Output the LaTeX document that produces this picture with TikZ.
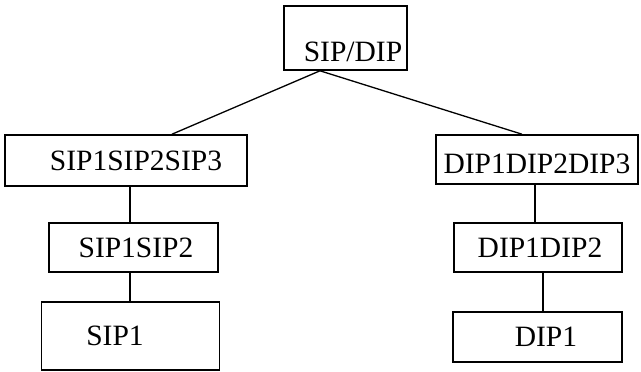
\documentclass[tikz,border=0pt]{standalone}
\usepackage{fontspec}
\setmainfont{Liberation Serif}

\begin{document}
\begin{tikzpicture}[
  x=1pt, y=-1pt,
  box/.style={draw, line width=1.6pt, inner sep=0pt,
    font=\fontsize{29.5}{31}\selectfont, text height=19pt, text depth=0pt},
  link/.style={line width=1.3pt}
]
\useasboundingbox (0,0) rectangle (641,372);

% root and the two branches
\node[box, minimum width=123pt, minimum height=64pt, text height=47pt] (root) at (345.5,38) {\hspace*{15pt}SIP/DIP};
\node[box, minimum width=242pt, minimum height=51pt] (sip3) at (126,160.5) {\hspace*{20pt}SIP1SIP2SIP3};
\node[box, minimum width=202pt, minimum height=49pt, text height=27pt] (dip3) at (537,159.5) {DIP1DIP2DIP3};
\node[box, minimum width=169pt, minimum height=49pt] (sip2) at (133.5,247.5) {\hspace*{5pt}SIP1SIP2};
\node[box, minimum width=168pt, minimum height=49pt] (dip2) at (538,247.5) {\hspace*{4pt}DIP1DIP2};
\node[box, minimum width=178pt, minimum height=68pt] (sip1) at (130.5,336) {SIP1\hspace*{31pt}};
\node[box, minimum width=169pt, minimum height=50pt] (dip1) at (537.5,337) {\hspace*{17pt}DIP1};

\draw[link] ([xshift=-25.5pt]root.south) -- ([xshift=46pt]sip3.north);
\draw[link] ([xshift=-25.5pt]root.south) -- ([xshift=-15pt]dip3.north);
\draw[link] ([xshift=4pt]sip3.south) -- ([xshift=-3.5pt]sip2.north);
\draw[link] ([xshift=-3.5pt]sip2.south) -- ([xshift=-0.5pt]sip1.north);
\draw[link] ([xshift=-2pt]dip3.south) -- ([xshift=-3pt]dip2.north);
\draw[link] ([xshift=5pt]dip2.south) -- ([xshift=5.5pt]dip1.north);
\end{tikzpicture}
\end{document}
